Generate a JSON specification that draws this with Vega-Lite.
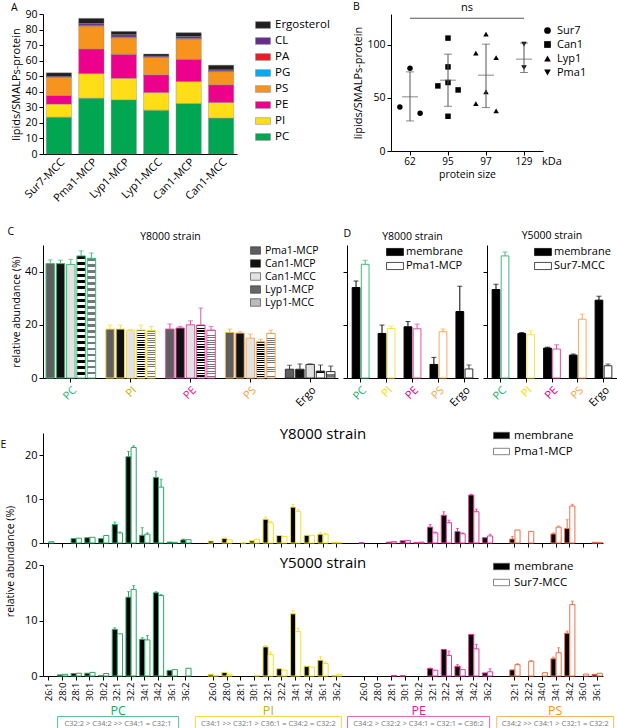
{
"$schema": "https://vega.github.io/schema/vega-lite/v6.json",
"padding": {"left": 0, "top": 1, "right": 0, "bottom": 0},
"background": "white",
"config": {
  "font": "Open Sans",
  "view": {"stroke": null},
  "axis": {"grid": false, "domainColor": "#000", "tickColor": "#000", "labelColor": "#000", "titleColor": "#000", "labelFontSize": 10, "titleFontSize": 10.5, "titleFontWeight": "normal", "tickSize": 4, "labelPadding": 2, "titlePadding": 3},
  "legend": {"labelFontSize": 11, "labelColor": "#000"},
  "title": {"fontWeight": "normal", "fontSize": 10.5, "color": "#000"}
},
"datasets": {
  "A": [
    {"sample":"Sur7-MCC","lipid":"PC","o":1,"v":23.7},{"sample":"Sur7-MCC","lipid":"PI","o":2,"v":8.4},{"sample":"Sur7-MCC","lipid":"PE","o":3,"v":5.5},{"sample":"Sur7-MCC","lipid":"PS","o":4,"v":11.8},{"sample":"Sur7-MCC","lipid":"PG","o":5,"v":0.1},{"sample":"Sur7-MCC","lipid":"PA","o":6,"v":0.1},{"sample":"Sur7-MCC","lipid":"CL","o":7,"v":0.3},{"sample":"Sur7-MCC","lipid":"Ergosterol","o":8,"v":2.3},
    {"sample":"Pma1-MCP","lipid":"PC","o":1,"v":35.9},{"sample":"Pma1-MCP","lipid":"PI","o":2,"v":15.8},{"sample":"Pma1-MCP","lipid":"PE","o":3,"v":15.8},{"sample":"Pma1-MCP","lipid":"PS","o":4,"v":14.8},{"sample":"Pma1-MCP","lipid":"PG","o":5,"v":0.2},{"sample":"Pma1-MCP","lipid":"PA","o":6,"v":0.2},{"sample":"Pma1-MCP","lipid":"CL","o":7,"v":1.2},{"sample":"Pma1-MCP","lipid":"Ergosterol","o":8,"v":3.3},
    {"sample":"Lyp1-MCP","lipid":"PC","o":1,"v":34.8},{"sample":"Lyp1-MCP","lipid":"PI","o":2,"v":13.9},{"sample":"Lyp1-MCP","lipid":"PE","o":3,"v":15.4},{"sample":"Lyp1-MCP","lipid":"PS","o":4,"v":10.7},{"sample":"Lyp1-MCP","lipid":"PG","o":5,"v":0.2},{"sample":"Lyp1-MCP","lipid":"PA","o":6,"v":0.2},{"sample":"Lyp1-MCP","lipid":"CL","o":7,"v":1.5},{"sample":"Lyp1-MCP","lipid":"Ergosterol","o":8,"v":2.1},
    {"sample":"Lyp1-MCC","lipid":"PC","o":1,"v":28.2},{"sample":"Lyp1-MCC","lipid":"PI","o":2,"v":11.3},{"sample":"Lyp1-MCC","lipid":"PE","o":3,"v":11.4},{"sample":"Lyp1-MCC","lipid":"PS","o":4,"v":11.3},{"sample":"Lyp1-MCC","lipid":"PG","o":5,"v":0.1},{"sample":"Lyp1-MCC","lipid":"PA","o":6,"v":0.1},{"sample":"Lyp1-MCC","lipid":"CL","o":7,"v":0.6},{"sample":"Lyp1-MCC","lipid":"Ergosterol","o":8,"v":1.3},
    {"sample":"Can1-MCP","lipid":"PC","o":1,"v":32.5},{"sample":"Can1-MCP","lipid":"PI","o":2,"v":14.1},{"sample":"Can1-MCP","lipid":"PE","o":3,"v":14.3},{"sample":"Can1-MCP","lipid":"PS","o":4,"v":13.1},{"sample":"Can1-MCP","lipid":"PG","o":5,"v":0.2},{"sample":"Can1-MCP","lipid":"PA","o":6,"v":0.2},{"sample":"Can1-MCP","lipid":"CL","o":7,"v":1.1},{"sample":"Can1-MCP","lipid":"Ergosterol","o":8,"v":2.5},
    {"sample":"Can1-MCC","lipid":"PC","o":1,"v":23.1},{"sample":"Can1-MCC","lipid":"PI","o":2,"v":10.0},{"sample":"Can1-MCC","lipid":"PE","o":3,"v":11.4},{"sample":"Can1-MCC","lipid":"PS","o":4,"v":8.5},{"sample":"Can1-MCC","lipid":"PG","o":5,"v":0.2},{"sample":"Can1-MCC","lipid":"PA","o":6,"v":0.2},{"sample":"Can1-MCC","lipid":"CL","o":7,"v":0.7},{"sample":"Can1-MCC","lipid":"Ergosterol","o":8,"v":3.0}
  ],
  "Bpts": [
    {"prot":"Sur7","kda":"62","rep":"L","v":41.5},{"prot":"Sur7","kda":"62","rep":"C","v":78},{"prot":"Sur7","kda":"62","rep":"R","v":35.6},
    {"prot":"Can1","kda":"95","rep":"L","v":61.3},{"prot":"Can1","kda":"95","rep":"C","v":106.3},{"prot":"Can1","kda":"95","rep":"C","v":79.2},{"prot":"Can1","kda":"95","rep":"C","v":64.5},{"prot":"Can1","kda":"95","rep":"C","v":32.7},{"prot":"Can1","kda":"95","rep":"R","v":57.5},
    {"prot":"Lyp1","kda":"97","rep":"L","v":92.1},{"prot":"Lyp1","kda":"97","rep":"C","v":110},{"prot":"Lyp1","kda":"97","rep":"R","v":88},{"prot":"Lyp1","kda":"97","rep":"L","v":44.7},{"prot":"Lyp1","kda":"97","rep":"C","v":55.7},{"prot":"Lyp1","kda":"97","rep":"R","v":37.7},
    {"prot":"Pma1","kda":"129","rep":"C","v":100.6},{"prot":"Pma1","kda":"129","rep":"C","v":78.6}
  ],
  "Bstat": [
    {"kda":"62","mean":51,"lo":28.3,"hi":74.5},{"kda":"95","mean":66.7,"lo":42.1,"hi":91.2},{"kda":"97","mean":71.4,"lo":40.9,"hi":100.6},{"kda":"129","mean":86.5,"lo":73.9,"hi":101.6}
  ],
  "C": [
    {"g":"PC","s":"Pma1-MCP","v":43,"e":44.4},{"g":"PC","s":"Can1-MCP","v":43,"e":44.3},{"g":"PC","s":"Can1-MCC","v":42.7,"e":44.6},{"g":"PC","s":"Lyp1-MCP","v":45.9,"e":47.8},{"g":"PC","s":"Lyp1-MCC","v":45,"e":47},
    {"g":"PI","s":"Pma1-MCP","v":18.4,"e":19.9},{"g":"PI","s":"Can1-MCP","v":18.4,"e":19.9},{"g":"PI","s":"Can1-MCC","v":18,"e":18.3},{"g":"PI","s":"Lyp1-MCP","v":18,"e":19.9},{"g":"PI","s":"Lyp1-MCC","v":17.8,"e":19.4},
    {"g":"PE","s":"Pma1-MCP","v":18.4,"e":20.3},{"g":"PE","s":"Can1-MCP","v":18.8,"e":19.4},{"g":"PE","s":"Can1-MCC","v":20,"e":21.5},{"g":"PE","s":"Lyp1-MCP","v":19.9,"e":26.3},{"g":"PE","s":"Lyp1-MCC","v":18,"e":19.4},
    {"g":"PS","s":"Pma1-MCP","v":17.1,"e":18.4},{"g":"PS","s":"Can1-MCP","v":16.9,"e":17.4},{"g":"PS","s":"Can1-MCC","v":15,"e":16.5},{"g":"PS","s":"Lyp1-MCP","v":13.6,"e":14.6},{"g":"PS","s":"Lyp1-MCC","v":16.8,"e":18},
    {"g":"Ergo","s":"Pma1-MCP","v":3.3,"e":4.8},{"g":"Ergo","s":"Can1-MCP","v":3.3,"e":5.3},{"g":"Ergo","s":"Can1-MCC","v":5.1,"e":5.3},{"g":"Ergo","s":"Lyp1-MCP","v":2.6,"e":4.9},{"g":"Ergo","s":"Lyp1-MCC","v":2.4,"e":4.5}
  ],
  "D": [
    {"strain":"Y8000","g":"PC","s":"membrane","v":34,"e":36.5},{"strain":"Y8000","g":"PI","s":"membrane","v":16.75,"e":19.9},{"strain":"Y8000","g":"PE","s":"membrane","v":19.25,"e":21.25},{"strain":"Y8000","g":"PS","s":"membrane","v":5.1,"e":7.75},{"strain":"Y8000","g":"Ergo","s":"membrane","v":25,"e":34.5},
    {"strain":"Y8000","g":"PC","s":"Pma1-MCP","v":42.75,"e":44.25},{"strain":"Y8000","g":"PI","s":"Pma1-MCP","v":18.6,"e":19.5},{"strain":"Y8000","g":"PE","s":"Pma1-MCP","v":18.5,"e":20.25},{"strain":"Y8000","g":"PS","s":"Pma1-MCP","v":17.4,"e":18.4},{"strain":"Y8000","g":"Ergo","s":"Pma1-MCP","v":3.4,"e":4.9},
    {"strain":"Y5000","g":"PC","s":"membrane","v":33.25,"e":35.25},{"strain":"Y5000","g":"PI","s":"membrane","v":16.75,"e":17.1},{"strain":"Y5000","g":"PE","s":"membrane","v":11.25,"e":11.6},{"strain":"Y5000","g":"PS","s":"membrane","v":8.6,"e":9},{"strain":"Y5000","g":"Ergo","s":"membrane","v":29.25,"e":30.75},
    {"strain":"Y5000","g":"PC","s":"Sur7-MCC","v":45.9,"e":47.4},{"strain":"Y5000","g":"PI","s":"Sur7-MCC","v":16.25,"e":17.75},{"strain":"Y5000","g":"PE","s":"Sur7-MCC","v":10.9,"e":12.5},{"strain":"Y5000","g":"PS","s":"Sur7-MCC","v":22.1,"e":24},{"strain":"Y5000","g":"Ergo","s":"Sur7-MCC","v":4.6,"e":5.25}
  ],
  "E8": [
    {"k":"PC 26:1","g":"PC","s":"Pma1-MCP","v":0.3},
    {"k":"PC 28:1","g":"PC","s":"membrane","v":1.0},{"k":"PC 28:1","g":"PC","s":"Pma1-MCP","v":1.1},
    {"k":"PC 30:1","g":"PC","s":"membrane","v":1.2},{"k":"PC 30:1","g":"PC","s":"Pma1-MCP","v":1.3},
    {"k":"PC 30:2","g":"PC","s":"membrane","v":1.0},{"k":"PC 30:2","g":"PC","s":"Pma1-MCP","v":1.7},
    {"k":"PC 32:1","g":"PC","s":"membrane","v":4.2,"e":4.75},{"k":"PC 32:1","g":"PC","s":"Pma1-MCP","v":2.3,"e":2.5},
    {"k":"PC 32:2","g":"PC","s":"membrane","v":19.6,"e":20.8},{"k":"PC 32:2","g":"PC","s":"Pma1-MCP","v":21.7,"e":22.1},
    {"k":"PC 34:1","g":"PC","s":"membrane","v":1.75,"e":3.5},{"k":"PC 34:1","g":"PC","s":"Pma1-MCP","v":2.0,"e":2.3},
    {"k":"PC 34:2","g":"PC","s":"membrane","v":14.9,"e":16.3},{"k":"PC 34:2","g":"PC","s":"Pma1-MCP","v":12.7,"e":14.5},
    {"k":"PC 36:1","g":"PC","s":"membrane","v":0.2},{"k":"PC 36:1","g":"PC","s":"Pma1-MCP","v":0.15},
    {"k":"PC 36:2","g":"PC","s":"membrane","v":0.7,"e":0.9},{"k":"PC 36:2","g":"PC","s":"Pma1-MCP","v":0.75},
    {"k":"PI 26:0","g":"PI","s":"membrane","v":0.45},
    {"k":"PI 28:0","g":"PI","s":"membrane","v":1.05,"e":1.2},{"k":"PI 28:0","g":"PI","s":"Pma1-MCP","v":0.7},
    {"k":"PI 28:1","g":"PI","s":"Pma1-MCP","v":0.05},
    {"k":"PI 30:1","g":"PI","s":"membrane","v":0.5},{"k":"PI 30:1","g":"PI","s":"Pma1-MCP","v":0.9},
    {"k":"PI 32:1","g":"PI","s":"membrane","v":5.4,"e":5.9},{"k":"PI 32:1","g":"PI","s":"Pma1-MCP","v":4.6,"e":4.9},
    {"k":"PI 32:2","g":"PI","s":"membrane","v":1.7},{"k":"PI 32:2","g":"PI","s":"Pma1-MCP","v":1.5},
    {"k":"PI 34:1","g":"PI","s":"membrane","v":8.15,"e":8.75},{"k":"PI 34:1","g":"PI","s":"Pma1-MCP","v":7.2,"e":7.6},
    {"k":"PI 34:2","g":"PI","s":"membrane","v":1.75},{"k":"PI 34:2","g":"PI","s":"Pma1-MCP","v":1.75},
    {"k":"PI 36:1","g":"PI","s":"membrane","v":2.0,"e":2.4},{"k":"PI 36:1","g":"PI","s":"Pma1-MCP","v":2.0,"e":2.2},
    {"k":"PI 36:2","g":"PI","s":"membrane","v":0.1},{"k":"PI 36:2","g":"PI","s":"Pma1-MCP","v":0.15},
    {"k":"PE 26:0","g":"PE","s":"membrane","v":0.05},
    {"k":"PE 28:1","g":"PE","s":"membrane","v":0.2},{"k":"PE 28:1","g":"PE","s":"Pma1-MCP","v":0.3},
    {"k":"PE 30:1","g":"PE","s":"membrane","v":0.5},{"k":"PE 30:1","g":"PE","s":"Pma1-MCP","v":0.6},
    {"k":"PE 30:2","g":"PE","s":"membrane","v":0.1},{"k":"PE 30:2","g":"PE","s":"Pma1-MCP","v":0.2},
    {"k":"PE 32:1","g":"PE","s":"membrane","v":3.6,"e":4.2},{"k":"PE 32:1","g":"PE","s":"Pma1-MCP","v":2.3,"e":2.5},
    {"k":"PE 32:2","g":"PE","s":"membrane","v":6.3,"e":7.1},{"k":"PE 32:2","g":"PE","s":"Pma1-MCP","v":4.6,"e":5.2},
    {"k":"PE 34:1","g":"PE","s":"membrane","v":2.6,"e":3.3},{"k":"PE 34:1","g":"PE","s":"Pma1-MCP","v":2.1,"e":2.3},
    {"k":"PE 34:2","g":"PE","s":"membrane","v":10.9,"e":11.1},{"k":"PE 34:2","g":"PE","s":"Pma1-MCP","v":7.1,"e":7.7},
    {"k":"PE 36:2","g":"PE","s":"membrane","v":1.2},{"k":"PE 36:2","g":"PE","s":"Pma1-MCP","v":1.6,"e":2.0},
    {"k":"PS 32:1","g":"PS","s":"membrane","v":0.9,"e":1.5},{"k":"PS 32:1","g":"PS","s":"Pma1-MCP","v":2.95},
    {"k":"PS 32:2","g":"PS","s":"Pma1-MCP","v":2.65},
    {"k":"PS 34:1","g":"PS","s":"membrane","v":2.05,"e":2.3},{"k":"PS 34:1","g":"PS","s":"Pma1-MCP","v":3.6,"e":3.85},
    {"k":"PS 34:2","g":"PS","s":"membrane","v":3.3,"e":5.3},{"k":"PS 34:2","g":"PS","s":"Pma1-MCP","v":8.4,"e":8.8},
    {"k":"PS 36:1","g":"PS","s":"membrane","v":0.15},{"k":"PS 36:1","g":"PS","s":"Pma1-MCP","v":0.15}
  ],
  "E5": [
    {"k":"PC 28:0","g":"PC","s":"membrane","v":0.2},{"k":"PC 28:0","g":"PC","s":"Sur7-MCC","v":0.3},
    {"k":"PC 28:1","g":"PC","s":"membrane","v":0.45},{"k":"PC 28:1","g":"PC","s":"Sur7-MCC","v":0.5},
    {"k":"PC 30:1","g":"PC","s":"membrane","v":0.5},{"k":"PC 30:1","g":"PC","s":"Sur7-MCC","v":0.65},
    {"k":"PC 30:2","g":"PC","s":"membrane","v":0.1},{"k":"PC 30:2","g":"PC","s":"Sur7-MCC","v":0.45},
    {"k":"PC 32:1","g":"PC","s":"membrane","v":8.4,"e":8.7},{"k":"PC 32:1","g":"PC","s":"Sur7-MCC","v":7.6},
    {"k":"PC 32:2","g":"PC","s":"membrane","v":14.2,"e":15.2},{"k":"PC 32:2","g":"PC","s":"Sur7-MCC","v":15.6,"e":16.3},
    {"k":"PC 34:1","g":"PC","s":"membrane","v":6.6,"e":6.9},{"k":"PC 34:1","g":"PC","s":"Sur7-MCC","v":6.5,"e":7.3},
    {"k":"PC 34:2","g":"PC","s":"membrane","v":15,"e":15.2},{"k":"PC 34:2","g":"PC","s":"Sur7-MCC","v":14.5,"e":14.7},
    {"k":"PC 36:1","g":"PC","s":"membrane","v":1.0},{"k":"PC 36:1","g":"PC","s":"Sur7-MCC","v":1.15},
    {"k":"PC 36:2","g":"PC","s":"Sur7-MCC","v":1.4},
    {"k":"PI 26:0","g":"PI","s":"membrane","v":0.3},{"k":"PI 26:0","g":"PI","s":"Sur7-MCC","v":0.1},
    {"k":"PI 28:0","g":"PI","s":"membrane","v":0.65},{"k":"PI 28:0","g":"PI","s":"Sur7-MCC","v":0.25},
    {"k":"PI 30:1","g":"PI","s":"Sur7-MCC","v":0.1},
    {"k":"PI 32:1","g":"PI","s":"membrane","v":5.25,"e":5.5},{"k":"PI 32:1","g":"PI","s":"Sur7-MCC","v":3.85,"e":4.3},
    {"k":"PI 32:2","g":"PI","s":"membrane","v":1.3},{"k":"PI 32:2","g":"PI","s":"Sur7-MCC","v":1.05},
    {"k":"PI 34:1","g":"PI","s":"membrane","v":11.2,"e":11.8},{"k":"PI 34:1","g":"PI","s":"Sur7-MCC","v":8.0,"e":8.6},
    {"k":"PI 34:2","g":"PI","s":"membrane","v":1.75},{"k":"PI 34:2","g":"PI","s":"Sur7-MCC","v":1.6},
    {"k":"PI 36:1","g":"PI","s":"membrane","v":2.85,"e":3.55},{"k":"PI 36:1","g":"PI","s":"Sur7-MCC","v":2.25,"e":2.5},
    {"k":"PI 36:2","g":"PI","s":"membrane","v":0.1},{"k":"PI 36:2","g":"PI","s":"Sur7-MCC","v":0.25},
    {"k":"PE 28:1","g":"PE","s":"Sur7-MCC","v":0.1},
    {"k":"PE 30:1","g":"PE","s":"membrane","v":0.05},
    {"k":"PE 32:1","g":"PE","s":"membrane","v":1.35,"e":1.45},{"k":"PE 32:1","g":"PE","s":"Sur7-MCC","v":1.05},
    {"k":"PE 32:2","g":"PE","s":"membrane","v":4.8},{"k":"PE 32:2","g":"PE","s":"Sur7-MCC","v":3.7,"e":4.5},
    {"k":"PE 34:1","g":"PE","s":"membrane","v":1.75,"e":2.05},{"k":"PE 34:1","g":"PE","s":"Sur7-MCC","v":1.15},
    {"k":"PE 34:2","g":"PE","s":"membrane","v":7.5},{"k":"PE 34:2","g":"PE","s":"Sur7-MCC","v":4.9,"e":5.7},
    {"k":"PE 36:2","g":"PE","s":"membrane","v":0.55},{"k":"PE 36:2","g":"PE","s":"Sur7-MCC","v":0.75,"e":1.3},
    {"k":"PS 32:1","g":"PS","s":"membrane","v":1.1},{"k":"PS 32:1","g":"PS","s":"Sur7-MCC","v":2.05,"e":2.2},
    {"k":"PS 32:2","g":"PS","s":"Sur7-MCC","v":2.65,"e":2.8},
    {"k":"PS 34:0","g":"PS","s":"Sur7-MCC","v":0.6},
    {"k":"PS 34:1","g":"PS","s":"membrane","v":3.1,"e":3.4},{"k":"PS 34:1","g":"PS","s":"Sur7-MCC","v":4.2,"e":5.1},
    {"k":"PS 34:2","g":"PS","s":"membrane","v":7.7,"e":8.1},{"k":"PS 34:2","g":"PS","s":"Sur7-MCC","v":12.9,"e":13.5},
    {"k":"PS 36:0","g":"PS","s":"Sur7-MCC","v":0.35},
    {"k":"PS 36:1","g":"PS","s":"membrane","v":0.3},{"k":"PS 36:1","g":"PS","s":"Sur7-MCC","v":0.5}
  ],
  "strip": [
    {"k":"PC 32:1","g":"PC","row":"label","t":"PC"},{"k":"PI 32:1","g":"PI","row":"label","t":"PI"},{"k":"PE 30:2","g":"PE","row":"label","t":"PE"},{"k":"PS 34:1","g":"PS","row":"label","t":"PS"},
    {"k":"PC 32:1","g":"PC","row":"box","t":"C32:2 > C34:2 >> C34:1 = C32:1"},{"k":"PI 32:1","g":"PI","row":"box","t":"C34:1 >> C32:1 > C36:1 = C34:2 = C32:2"},{"k":"PE 30:2","g":"PE","row":"box","t":"C34:2 > C32:2 > C34:1 = C32:1 = C36:2"},{"k":"PS 34:1","g":"PS","row":"box","t":"C34:2 >> C34:1 > C32:1 = C32:2"}
  ]
},
"spacing": 22,
"resolve": {"scale": {"x":"independent","y":"independent","xOffset":"independent","fill":"independent","stroke":"independent","shape":"independent","color":"independent"}, "legend": {"fill":"independent","stroke":"independent","shape":"independent","color":"independent"}, "axis": {"x":"independent","y":"independent"}},
"vconcat": [
 {
  "bounds": "flush",
  "spacing": 154,
  "resolve": {"scale": {"x":"independent","y":"independent","xOffset":"independent","fill":"independent","stroke":"independent","shape":"independent","color":"independent"}, "legend": {"fill":"independent","stroke":"independent","shape":"independent","color":"independent"}},
  "hconcat": [
   {
    "width": 194, "height": 140,
    "data": {"name": "A"},
    "title": {"text": "A", "anchor": "start", "frame": "bounds", "offset": -4},
    "mark": {"type": "bar", "stroke": "#888", "strokeWidth": 0.4},
    "encoding": {
      "x": {"field": "sample", "type": "nominal", "sort": ["Sur7-MCC","Pma1-MCP","Lyp1-MCP","Lyp1-MCC","Can1-MCP","Can1-MCC"], "scale": {"paddingInner": 0.22, "paddingOuter": 0.1}, "axis": {"title": null, "labelAngle": -45, "labelFontSize": 11, "ticks": false}},
      "y": {"field": "v", "type": "quantitative", "stack": "zero", "scale": {"domain": [0, 90], "nice": false}, "axis": {"values": [0,10,20,30,40,50,60,70,80,90], "title": "lipids/SMALPs-protein", "labelFontSize": 10.5, "titleFontSize": 11}},
      "fill": {"field": "lipid", "type": "nominal", "scale": {"domain": ["Ergosterol","CL","PA","PG","PS","PE","PI","PC"], "range": ["#231f20","#662d91","#ed1c24","#00aeef","#f7941d","#ec008c","#ffde17","#00a651"]}, "legend": {"title": null, "orient": "none", "legendX": 212, "legendY": 3, "symbolType": "M-1,-0.45H1V0.45H-1Z", "symbolSize": 225, "symbolStrokeColor": "#888", "symbolStrokeWidth": 0.5, "rowPadding": 2, "labelFontSize": 11.5}},
      "order": {"field": "o", "type": "quantitative"}
    }
   },
   {
    "width": 152, "height": 137,
    "title": {"text": "B", "anchor": "start", "frame": "bounds", "offset": -10},
    "layer": [
     {
      "data": {"name": "Bpts"},
      "mark": {"type": "point", "filled": true, "color": "#000", "size": 30, "opacity": 1},
      "encoding": {
        "x": {"field": "kda", "type": "ordinal", "scale": {"domain": ["62","95","97","129"], "paddingInner": 0.2, "paddingOuter": 0.1}, "axis": {"title": "protein size", "labelAngle": 0, "labelFontSize": 10, "labelPadding": 1, "titleFontSize": 10.5, "titlePadding": 3}},
        "xOffset": {"field": "rep", "type": "nominal", "scale": {"domain": ["L","C","R"]}},
        "y": {"field": "v", "type": "quantitative", "scale": {"domain": [0, 129], "nice": false}, "axis": {"values": [0,25,50,75,100,125], "title": "lipids/SMALPs-protein", "labelFontSize": 10.5, "titleFontSize": 11}},
        "shape": {"field": "prot", "type": "nominal", "scale": {"domain": ["Sur7","Can1","Lyp1","Pma1"], "range": ["circle","square","triangle-up","triangle-down"]}, "legend": {"title": null, "orient": "none", "legendX": 151, "legendY": 11, "symbolFillColor": "#000", "symbolStrokeColor": "#000", "symbolSize": 45, "rowPadding": 1, "labelFontSize": 11}}
      }
     },
     {
      "data": {"name": "Bstat"},
      "mark": {"type": "rule", "color": "#555", "strokeWidth": 1},
      "encoding": {"x": {"field": "kda", "type": "ordinal"}, "y": {"field": "lo", "type": "quantitative"}, "y2": {"field": "hi"}}
     },
     {
      "data": {"name": "Bstat"},
      "mark": {"type": "tick", "color": "#555", "size": 8, "thickness": 1},
      "encoding": {"x": {"field": "kda", "type": "ordinal"}, "y": {"field": "lo", "type": "quantitative"}}
     },
     {
      "data": {"name": "Bstat"},
      "mark": {"type": "tick", "color": "#555", "size": 8, "thickness": 1},
      "encoding": {"x": {"field": "kda", "type": "ordinal"}, "y": {"field": "hi", "type": "quantitative"}}
     },
     {
      "data": {"name": "Bstat"},
      "mark": {"type": "tick", "color": "#555", "size": 16, "thickness": 1},
      "encoding": {"x": {"field": "kda", "type": "ordinal"}, "y": {"field": "mean", "type": "quantitative"}}
     },
     {
      "data": {"values": [{"a": "62", "b": "129", "y": 125}]},
      "mark": {"type": "rule", "color": "#555", "strokeWidth": 1},
      "encoding": {"x": {"field": "a", "type": "ordinal"}, "x2": {"field": "b"}, "y": {"field": "y", "type": "quantitative"}}
     },
     {
      "data": {"values": [{"a": "95", "y": 125, "t": "ns"}]},
      "mark": {"type": "text", "fontSize": 11, "dx": 19, "dy": -10, "color": "#000"},
      "encoding": {"x": {"field": "a", "type": "ordinal"}, "y": {"field": "y", "type": "quantitative"}, "text": {"field": "t"}}
     },
     {
      "data": {"values": [{"a": "129", "y": 0, "t": "kDa"}]},
      "mark": {"type": "text", "fontSize": 11, "dx": 18, "dy": 11, "align": "left", "color": "#000"},
      "encoding": {"x": {"field": "a", "type": "ordinal"}, "y": {"field": "y", "type": "quantitative"}, "text": {"field": "t"}}
     }
    ]
   }
  ]
 },
 {
  "spacing": 18,
  "resolve": {"scale": {"x":"independent","y":"independent","xOffset":"independent","fill":"independent","stroke":"independent","shape":"independent","color":"independent"}, "legend": {"fill":"independent","stroke":"independent","shape":"independent","color":"independent"}},
  "vconcat": [
   {
    "bounds": "flush",
    "spacing": 9,
    "resolve": {"scale": {"x":"independent","y":"independent","xOffset":"independent","fill":"independent","stroke":"independent","shape":"independent","color":"independent"}, "legend": {"fill":"independent","stroke":"independent","shape":"independent","color":"independent"}},
    "hconcat": [
     {
      "width": 295, "height": 133,
      "data": {"name": "C"},
      "title": {"text": "Y8000 strain", "dx": -20, "offset": -16},
      "encoding": {
        "x": {"field": "g", "type": "nominal", "scale": {"domain": ["PC","PI","PE","PS","Ergo"], "paddingInner": 0.17, "paddingOuter": 0.05}, "axis": {"labelAngle": -45, "labelFontSize": 11, "labelColor": {"condition": [{"test": "datum.value === 'PC'", "value": "#2bb673"}, {"test": "datum.value === 'PI'", "value": "#c9b400"}, {"test": "datum.value === 'PE'", "value": "#e6178c"}, {"test": "datum.value === 'PS'", "value": "#f7a040"}], "value": "#000"}, "title": "C", "titleAngle": 0, "titleX": -36, "titleY": -147, "titleAlign": "left", "titleBaseline": "middle"}},
        "xOffset": {"field": "s", "type": "nominal", "scale": {"domain": ["Pma1-MCP","Can1-MCP","Can1-MCC","Lyp1-MCP","Lyp1-MCC"], "paddingInner": 0.18}}
      },
      "layer": [
       {
        "mark": {"type": "bar", "strokeWidth": 1},
        "encoding": {
          "y": {"field": "v", "type": "quantitative", "scale": {"domain": [0, 50], "nice": false}, "axis": {"values": [0,10,20,30,40,50], "title": "relative abundance (%)", "labelFontSize": 11}},
          "fill": {
            "condition": [
              {"test": "datum.s === 'Lyp1-MCP'", "value": {"gradient": "linear", "x1": 0, "y1": 0, "x2": 0, "y2": 1, "stops": [
                {"offset":0,"color":"#000"},{"offset":0.025,"color":"#000"},{"offset":0.025,"color":"#fff"},{"offset":0.05,"color":"#fff"},
                {"offset":0.05,"color":"#000"},{"offset":0.075,"color":"#000"},{"offset":0.075,"color":"#fff"},{"offset":0.1,"color":"#fff"},
                {"offset":0.1,"color":"#000"},{"offset":0.125,"color":"#000"},{"offset":0.125,"color":"#fff"},{"offset":0.15,"color":"#fff"},
                {"offset":0.15,"color":"#000"},{"offset":0.175,"color":"#000"},{"offset":0.175,"color":"#fff"},{"offset":0.2,"color":"#fff"},
                {"offset":0.2,"color":"#000"},{"offset":0.225,"color":"#000"},{"offset":0.225,"color":"#fff"},{"offset":0.25,"color":"#fff"},
                {"offset":0.25,"color":"#000"},{"offset":0.275,"color":"#000"},{"offset":0.275,"color":"#fff"},{"offset":0.3,"color":"#fff"},
                {"offset":0.3,"color":"#000"},{"offset":0.325,"color":"#000"},{"offset":0.325,"color":"#fff"},{"offset":0.35,"color":"#fff"},
                {"offset":0.35,"color":"#000"},{"offset":0.375,"color":"#000"},{"offset":0.375,"color":"#fff"},{"offset":0.4,"color":"#fff"},
                {"offset":0.4,"color":"#000"},{"offset":0.425,"color":"#000"},{"offset":0.425,"color":"#fff"},{"offset":0.45,"color":"#fff"},
                {"offset":0.45,"color":"#000"},{"offset":0.475,"color":"#000"},{"offset":0.475,"color":"#fff"},{"offset":0.5,"color":"#fff"},
                {"offset":0.5,"color":"#000"},{"offset":0.525,"color":"#000"},{"offset":0.525,"color":"#fff"},{"offset":0.55,"color":"#fff"},
                {"offset":0.55,"color":"#000"},{"offset":0.575,"color":"#000"},{"offset":0.575,"color":"#fff"},{"offset":0.6,"color":"#fff"},
                {"offset":0.6,"color":"#000"},{"offset":0.625,"color":"#000"},{"offset":0.625,"color":"#fff"},{"offset":0.65,"color":"#fff"},
                {"offset":0.65,"color":"#000"},{"offset":0.675,"color":"#000"},{"offset":0.675,"color":"#fff"},{"offset":0.7,"color":"#fff"},
                {"offset":0.7,"color":"#000"},{"offset":0.725,"color":"#000"},{"offset":0.725,"color":"#fff"},{"offset":0.75,"color":"#fff"},
                {"offset":0.75,"color":"#000"},{"offset":0.775,"color":"#000"},{"offset":0.775,"color":"#fff"},{"offset":0.8,"color":"#fff"},
                {"offset":0.8,"color":"#000"},{"offset":0.825,"color":"#000"},{"offset":0.825,"color":"#fff"},{"offset":0.85,"color":"#fff"},
                {"offset":0.85,"color":"#000"},{"offset":0.875,"color":"#000"},{"offset":0.875,"color":"#fff"},{"offset":0.9,"color":"#fff"},
                {"offset":0.9,"color":"#000"},{"offset":0.925,"color":"#000"},{"offset":0.925,"color":"#fff"},{"offset":0.95,"color":"#fff"},
                {"offset":0.95,"color":"#000"},{"offset":0.975,"color":"#000"},{"offset":0.975,"color":"#fff"},{"offset":1,"color":"#fff"}
              ]}},
              {"test": "datum.s === 'Lyp1-MCC'", "value": {"gradient": "linear", "x1": 0, "y1": 0, "x2": 0, "y2": 1, "stops": [
                {"offset":0,"color":"#777"},{"offset":0.02,"color":"#777"},{"offset":0.02,"color":"#fff"},{"offset":0.05,"color":"#fff"},
                {"offset":0.05,"color":"#777"},{"offset":0.07,"color":"#777"},{"offset":0.07,"color":"#fff"},{"offset":0.1,"color":"#fff"},
                {"offset":0.1,"color":"#777"},{"offset":0.12,"color":"#777"},{"offset":0.12,"color":"#fff"},{"offset":0.15,"color":"#fff"},
                {"offset":0.15,"color":"#777"},{"offset":0.17,"color":"#777"},{"offset":0.17,"color":"#fff"},{"offset":0.2,"color":"#fff"},
                {"offset":0.2,"color":"#777"},{"offset":0.22,"color":"#777"},{"offset":0.22,"color":"#fff"},{"offset":0.25,"color":"#fff"},
                {"offset":0.25,"color":"#777"},{"offset":0.27,"color":"#777"},{"offset":0.27,"color":"#fff"},{"offset":0.3,"color":"#fff"},
                {"offset":0.3,"color":"#777"},{"offset":0.32,"color":"#777"},{"offset":0.32,"color":"#fff"},{"offset":0.35,"color":"#fff"},
                {"offset":0.35,"color":"#777"},{"offset":0.37,"color":"#777"},{"offset":0.37,"color":"#fff"},{"offset":0.4,"color":"#fff"},
                {"offset":0.4,"color":"#777"},{"offset":0.42,"color":"#777"},{"offset":0.42,"color":"#fff"},{"offset":0.45,"color":"#fff"},
                {"offset":0.45,"color":"#777"},{"offset":0.47,"color":"#777"},{"offset":0.47,"color":"#fff"},{"offset":0.5,"color":"#fff"},
                {"offset":0.5,"color":"#777"},{"offset":0.52,"color":"#777"},{"offset":0.52,"color":"#fff"},{"offset":0.55,"color":"#fff"},
                {"offset":0.55,"color":"#777"},{"offset":0.57,"color":"#777"},{"offset":0.57,"color":"#fff"},{"offset":0.6,"color":"#fff"},
                {"offset":0.6,"color":"#777"},{"offset":0.62,"color":"#777"},{"offset":0.62,"color":"#fff"},{"offset":0.65,"color":"#fff"},
                {"offset":0.65,"color":"#777"},{"offset":0.67,"color":"#777"},{"offset":0.67,"color":"#fff"},{"offset":0.7,"color":"#fff"},
                {"offset":0.7,"color":"#777"},{"offset":0.72,"color":"#777"},{"offset":0.72,"color":"#fff"},{"offset":0.75,"color":"#fff"},
                {"offset":0.75,"color":"#777"},{"offset":0.77,"color":"#777"},{"offset":0.77,"color":"#fff"},{"offset":0.8,"color":"#fff"},
                {"offset":0.8,"color":"#777"},{"offset":0.82,"color":"#777"},{"offset":0.82,"color":"#fff"},{"offset":0.85,"color":"#fff"},
                {"offset":0.85,"color":"#777"},{"offset":0.87,"color":"#777"},{"offset":0.87,"color":"#fff"},{"offset":0.9,"color":"#fff"},
                {"offset":0.9,"color":"#777"},{"offset":0.92,"color":"#777"},{"offset":0.92,"color":"#fff"},{"offset":0.95,"color":"#fff"},
                {"offset":0.95,"color":"#777"},{"offset":0.97,"color":"#777"},{"offset":0.97,"color":"#fff"},{"offset":1,"color":"#fff"}
              ]}}
            ],
            "field": "s", "type": "nominal", "scale": {"domain": ["Pma1-MCP","Can1-MCP","Can1-MCC","Lyp1-MCP","Lyp1-MCC"], "range": ["#5e5e5e","#111111","#e2e2e2","#666666","#bbbbbb"]}, "legend": {"title": null, "orient": "none", "legendX": 207, "legendY": 0, "symbolType": "M-1,-0.75H1V0.75H-1Z", "symbolSize": 100, "symbolStrokeColor": "#333", "symbolStrokeWidth": 0.6, "labelFontSize": 10.5, "rowPadding": 2, "padding": 0}},
          "stroke": {"field": "g", "type": "nominal", "scale": {"domain": ["PC","PI","PE","PS","Ergo"], "range": ["#3dba7e","#f5dc4a","#e44ea8","#f8a95a","#333333"]}, "legend": null}
        }
       },
       {
        "transform": [{"filter": "isValid(datum.e)"}],
        "mark": {"type": "rule", "strokeWidth": 1},
        "encoding": {"y": {"field": "v", "type": "quantitative"}, "y2": {"field": "e"}, "stroke": {"field": "g", "type": "nominal", "legend": null}}
       },
       {
        "transform": [{"filter": "isValid(datum.e)"}],
        "mark": {"type": "tick", "size": 5, "thickness": 1},
        "encoding": {"y": {"field": "e", "type": "quantitative"}, "color": {"field": "g", "type": "nominal", "scale": {"domain": ["PC","PI","PE","PS","Ergo"], "range": ["#3dba7e","#f5dc4a","#e44ea8","#f8a95a","#333333"]}, "legend": null}}
       }
      ]
     },
     {
      "width": 131, "height": 133,
      "data": {"name": "D"},
      "transform": [{"filter": "datum.strain === 'Y8000'"}],
      "title": {"text": "Y8000 strain", "offset": -14},
      "encoding": {
        "x": {"field": "g", "type": "nominal", "scale": {"domain": ["PC","PI","PE","PS","Ergo"], "paddingInner": 0.35, "paddingOuter": 0.2}, "axis": {"labelAngle": -45, "labelFontSize": 11, "labelColor": {"condition": [{"test": "datum.value === 'PC'", "value": "#1fb06a"}, {"test": "datum.value === 'PI'", "value": "#f5dc00"}, {"test": "datum.value === 'PE'", "value": "#e6007e"}, {"test": "datum.value === 'PS'", "value": "#f8a54b"}], "value": "#000"}, "title": "D", "titleAngle": 0, "titleX": -4, "titleY": -145, "titleAlign": "left", "titleBaseline": "middle"}},
        "xOffset": {"field": "s", "type": "nominal", "scale": {"domain": ["membrane","Pma1-MCP"], "paddingInner": 0.15}}
      },
      "layer": [
       {
        "mark": {"type": "bar", "strokeWidth": 1},
        "encoding": {
          "y": {"field": "v", "type": "quantitative", "scale": {"domain": [0, 50], "nice": false}, "axis": {"values": [0,10,20,30,40,50], "title": null, "labels": false}},
          "fill": {"field": "s", "type": "nominal", "scale": {"domain": ["membrane","Pma1-MCP"], "range": ["#000000","#ffffff"]}, "legend": {"title": null, "orient": "none", "legendX": 41, "legendY": 0, "symbolType": "M-1.3,-0.55H1.3V0.55H-1.3Z", "symbolSize": 169, "symbolStrokeColor": "#000", "symbolStrokeWidth": 0.7, "labelFontSize": 11, "rowPadding": 2, "padding": 0}},
          "stroke": {"condition": {"test": "datum.s === 'membrane'", "value": "#000"}, "field": "g", "type": "nominal", "scale": {"domain": ["PC","PI","PE","PS","Ergo"], "range": ["#3dba7e","#f8e04a","#e44ea8","#f8a95a","#333333"]}, "legend": null}
        }
       },
       {
        "mark": {"type": "rule", "strokeWidth": 1},
        "encoding": {"y": {"field": "v", "type": "quantitative"}, "y2": {"field": "e"}, "stroke": {"condition": {"test": "datum.s === 'membrane'", "value": "#000"}, "field": "g", "type": "nominal", "legend": null}}
       },
       {
        "mark": {"type": "tick", "size": 5, "thickness": 1},
        "encoding": {"y": {"field": "e", "type": "quantitative"}, "color": {"condition": {"test": "datum.s === 'membrane'", "value": "#000"}, "field": "g", "type": "nominal", "scale": {"domain": ["PC","PI","PE","PS","Ergo"], "range": ["#3dba7e","#f8e04a","#e44ea8","#f8a95a","#333333"]}, "legend": null}}
       }
      ]
     },
     {
      "width": 130, "height": 133,
      "data": {"name": "D"},
      "transform": [{"filter": "datum.strain === 'Y5000'"}],
      "title": {"text": "Y5000 strain", "offset": 4},
      "encoding": {
        "x": {"field": "g", "type": "nominal", "scale": {"domain": ["PC","PI","PE","PS","Ergo"], "paddingInner": 0.35, "paddingOuter": 0.2}, "axis": {"labelAngle": -45, "labelFontSize": 11, "labelColor": {"condition": [{"test": "datum.value === 'PC'", "value": "#1fb06a"}, {"test": "datum.value === 'PI'", "value": "#f5dc00"}, {"test": "datum.value === 'PE'", "value": "#e6007e"}, {"test": "datum.value === 'PS'", "value": "#f8a54b"}], "value": "#000"}, "title": null}},
        "xOffset": {"field": "s", "type": "nominal", "scale": {"domain": ["membrane","Sur7-MCC"], "paddingInner": 0.15}}
      },
      "layer": [
       {
        "mark": {"type": "bar", "strokeWidth": 1},
        "encoding": {
          "y": {"field": "v", "type": "quantitative", "scale": {"domain": [0, 50], "nice": false}, "axis": {"values": [0,10,20,30,40,50], "title": null, "labels": false}},
          "fill": {"field": "s", "type": "nominal", "scale": {"domain": ["membrane","Sur7-MCC"], "range": ["#000000","#ffffff"]}, "legend": {"title": null, "orient": "none", "legendX": 49, "legendY": 0, "symbolType": "M-1.3,-0.55H1.3V0.55H-1.3Z", "symbolSize": 169, "symbolStrokeColor": "#000", "symbolStrokeWidth": 0.7, "labelFontSize": 11, "rowPadding": 2, "padding": 0}},
          "stroke": {"condition": {"test": "datum.s === 'membrane'", "value": "#000"}, "field": "g", "type": "nominal", "scale": {"domain": ["PC","PI","PE","PS","Ergo"], "range": ["#3dba7e","#f8e04a","#e44ea8","#f8a95a","#333333"]}, "legend": null}
        }
       },
       {
        "mark": {"type": "rule", "strokeWidth": 1},
        "encoding": {"y": {"field": "v", "type": "quantitative"}, "y2": {"field": "e"}, "stroke": {"condition": {"test": "datum.s === 'membrane'", "value": "#000"}, "field": "g", "type": "nominal", "legend": null}}
       },
       {
        "mark": {"type": "tick", "size": 5, "thickness": 1},
        "encoding": {"y": {"field": "e", "type": "quantitative"}, "color": {"condition": {"test": "datum.s === 'membrane'", "value": "#000"}, "field": "g", "type": "nominal", "scale": {"domain": ["PC","PI","PE","PS","Ergo"], "range": ["#3dba7e","#f8e04a","#e44ea8","#f8a95a","#333333"]}, "legend": null}}
       }
      ]
     }
    ]
   },
   {
    "bounds": "flush",
    "spacing": 22,
    "resolve": {"scale": {"x":"independent","y":"independent","xOffset":"independent","fill":"independent","stroke":"independent","shape":"independent","color":"independent"}, "legend": {"fill":"independent","stroke":"independent","shape":"independent","color":"independent"}},
    "vconcat": [
     {
      "width": 560, "height": 110,
      "data": {"name": "E8"},
      "title": {"text": "Y8000 strain", "fontSize": 15, "offset": -15},
      "encoding": {
        "x": {"field": "k", "type": "nominal", "scale": {"domain": ["PC 26:1","PC 28:0","PC 28:1","PC 30:1","PC 30:2","PC 32:1","PC 32:2","PC 34:1","PC 34:2","PC 36:1","PC 36:2","g1","PI 26:0","PI 28:0","PI 28:1","PI 30:1","PI 32:1","PI 32:2","PI 34:1","PI 34:2","PI 36:1","PI 36:2","g2","PE 26:0","PE 28:0","PE 28:1","PE 30:1","PE 30:2","PE 32:1","PE 32:2","PE 34:1","PE 34:2","PE 36:2","g3","PS 32:1","PS 32:2","PS 34:0","PS 34:1","PS 34:2","PS 36:0","PS 36:1"], "paddingInner": 0.25, "paddingOuter": 0.05}, "axis": {"values": ["PC 26:1","PC 28:0","PC 28:1","PC 30:1","PC 30:2","PC 32:1","PC 32:2","PC 34:1","PC 34:2","PC 36:1","PC 36:2","PI 26:0","PI 28:0","PI 28:1","PI 30:1","PI 32:1","PI 32:2","PI 34:1","PI 34:2","PI 36:1","PI 36:2","PE 26:0","PE 28:0","PE 28:1","PE 30:1","PE 30:2","PE 32:1","PE 32:2","PE 34:1","PE 34:2","PE 36:2","PS 32:1","PS 32:2","PS 34:0","PS 34:1","PS 34:2","PS 36:0","PS 36:1"], "labels": false, "title": "E", "titleAngle": 0, "titleX": -43, "titleY": -99, "titleAlign": "left", "titleBaseline": "middle"}},
        "xOffset": {"field": "s", "type": "nominal", "scale": {"domain": ["membrane","Pma1-MCP"], "paddingInner": 0}}
      },
      "layer": [
       {
        "mark": {"type": "bar", "strokeWidth": 1},
        "encoding": {
          "y": {"field": "v", "type": "quantitative", "scale": {"domain": [0, 25], "nice": false}, "axis": {"values": [0,5,10,15,20,25], "title": "relative abundance (%)", "labelFontSize": 11, "titleX": -28, "titleY": 128}},
          "fill": {"field": "s", "type": "nominal", "scale": {"domain": ["membrane","Pma1-MCP"], "range": ["#000000","#ffffff"]}, "legend": {"title": null, "orient": "none", "legendX": 450, "legendY": -6, "symbolType": "M-1,-0.4H1V0.4H-1Z", "symbolSize": 256, "symbolStrokeColor": "#555", "symbolStrokeWidth": 0.7, "labelFontSize": 11.5, "rowPadding": 2, "padding": 0}},
          "stroke": {"field": "g", "type": "nominal", "scale": {"domain": ["PC","PI","PE","PS"], "range": ["#2aa866","#f2e030","#e23c9c","#f0704c"]}, "legend": null}
        }
       },
       {
        "transform": [{"filter": "isValid(datum.e)"}],
        "mark": {"type": "rule", "strokeWidth": 1},
        "encoding": {"y": {"field": "v", "type": "quantitative"}, "y2": {"field": "e"}, "stroke": {"field": "g", "type": "nominal", "legend": null}}
       },
       {
        "transform": [{"filter": "isValid(datum.e)"}],
        "mark": {"type": "tick", "size": 3, "thickness": 1},
        "encoding": {"y": {"field": "e", "type": "quantitative"}, "color": {"field": "g", "type": "nominal", "scale": {"domain": ["PC","PI","PE","PS"], "range": ["#2aa866","#f2e030","#e23c9c","#f0704c"]}, "legend": null}}
       }
      ]
     },
     {
      "width": 560, "height": 111,
      "data": {"name": "E5"},
      "title": {"text": "Y5000 strain", "fontSize": 15, "offset": -13},
      "encoding": {
        "x": {"field": "k", "type": "nominal", "scale": {"domain": ["PC 26:1","PC 28:0","PC 28:1","PC 30:1","PC 30:2","PC 32:1","PC 32:2","PC 34:1","PC 34:2","PC 36:1","PC 36:2","g1","PI 26:0","PI 28:0","PI 28:1","PI 30:1","PI 32:1","PI 32:2","PI 34:1","PI 34:2","PI 36:1","PI 36:2","g2","PE 26:0","PE 28:0","PE 28:1","PE 30:1","PE 30:2","PE 32:1","PE 32:2","PE 34:1","PE 34:2","PE 36:2","g3","PS 32:1","PS 32:2","PS 34:0","PS 34:1","PS 34:2","PS 36:0","PS 36:1"], "paddingInner": 0.25, "paddingOuter": 0.05}, "axis": {"values": ["PC 26:1","PC 28:0","PC 28:1","PC 30:1","PC 30:2","PC 32:1","PC 32:2","PC 34:1","PC 34:2","PC 36:1","PC 36:2","PI 26:0","PI 28:0","PI 28:1","PI 30:1","PI 32:1","PI 32:2","PI 34:1","PI 34:2","PI 36:1","PI 36:2","PE 26:0","PE 28:0","PE 28:1","PE 30:1","PE 30:2","PE 32:1","PE 32:2","PE 34:1","PE 34:2","PE 36:2","PS 32:1","PS 32:2","PS 34:0","PS 34:1","PS 34:2","PS 36:0","PS 36:1"], "labelExpr": "split(datum.value, ' ')[1]", "labelAngle": -90, "labelFontSize": 9.5, "title": null}},
        "xOffset": {"field": "s", "type": "nominal", "scale": {"domain": ["membrane","Sur7-MCC"], "paddingInner": 0}}
      },
      "layer": [
       {
        "mark": {"type": "bar", "strokeWidth": 1},
        "encoding": {
          "y": {"field": "v", "type": "quantitative", "scale": {"domain": [0, 20], "nice": false}, "axis": {"values": [0,5,10,15,20], "title": null, "labelFontSize": 11}},
          "fill": {"field": "s", "type": "nominal", "scale": {"domain": ["membrane","Sur7-MCC"], "range": ["#000000","#ffffff"]}, "legend": {"title": null, "orient": "none", "legendX": 450, "legendY": -7, "symbolType": "M-1,-0.4H1V0.4H-1Z", "symbolSize": 256, "symbolStrokeColor": "#555", "symbolStrokeWidth": 0.7, "labelFontSize": 11.5, "rowPadding": 2, "padding": 0}},
          "stroke": {"field": "g", "type": "nominal", "scale": {"domain": ["PC","PI","PE","PS"], "range": ["#2aa866","#f2e030","#e23c9c","#f0704c"]}, "legend": null}
        }
       },
       {
        "transform": [{"filter": "isValid(datum.e)"}],
        "mark": {"type": "rule", "strokeWidth": 1},
        "encoding": {"y": {"field": "v", "type": "quantitative"}, "y2": {"field": "e"}, "stroke": {"field": "g", "type": "nominal", "legend": null}}
       },
       {
        "transform": [{"filter": "isValid(datum.e)"}],
        "mark": {"type": "tick", "size": 3, "thickness": 1},
        "encoding": {"y": {"field": "e", "type": "quantitative"}, "color": {"field": "g", "type": "nominal", "scale": {"domain": ["PC","PI","PE","PS"], "range": ["#2aa866","#f2e030","#e23c9c","#f0704c"]}, "legend": null}}
       }
      ]
     },
     {
      "width": 560, "height": 34,
      "data": {"name": "strip"},
      "encoding": {
        "x": {"field": "k", "type": "nominal", "scale": {"domain": ["PC 26:1","PC 28:0","PC 28:1","PC 30:1","PC 30:2","PC 32:1","PC 32:2","PC 34:1","PC 34:2","PC 36:1","PC 36:2","g1","PI 26:0","PI 28:0","PI 28:1","PI 30:1","PI 32:1","PI 32:2","PI 34:1","PI 34:2","PI 36:1","PI 36:2","g2","PE 26:0","PE 28:0","PE 28:1","PE 30:1","PE 30:2","PE 32:1","PE 32:2","PE 34:1","PE 34:2","PE 36:2","g3","PS 32:1","PS 32:2","PS 34:0","PS 34:1","PS 34:2","PS 36:0","PS 36:1"], "paddingInner": 0.25, "paddingOuter": 0.05}, "axis": null},
        "y": {"field": "row", "type": "nominal", "scale": {"domain": ["label","box"], "paddingInner": 0, "paddingOuter": 0}, "axis": null}
      },
      "layer": [
       {
        "transform": [{"filter": "datum.row === 'label'"}],
        "mark": {"type": "text", "fontSize": 12.5, "dy": 4},
        "encoding": {"text": {"field": "t"}, "color": {"field": "g", "type": "nominal", "scale": {"domain": ["PC","PI","PE","PS"], "range": ["#22a85a","#c8aa1e","#e0218a","#f7941d"]}, "legend": null}}
       },
       {
        "transform": [{"filter": "datum.row === 'box'"}],
        "mark": {"type": "point", "filled": false, "size": 21316, "strokeWidth": 1, "opacity": 1},
        "encoding": {"shape": {"field": "g", "type": "nominal", "scale": {"domain": ["PC","PI","PE","PS"], "range": ["M-0.829,-0.096H0.829V0.096H-0.829Z","M-1,-0.096H1V0.096H-1Z","M-0.973,-0.096H0.973V0.096H-0.973Z","M-0.801,-0.096H0.801V0.096H-0.801Z"]}, "legend": null}, "stroke": {"field": "g", "type": "nominal", "scale": {"domain": ["PC","PI","PE","PS"], "range": ["#5cc08c","#efd94a","#e569b0","#f9b66a"]}, "legend": null}}
       },
       {
        "transform": [{"filter": "datum.row === 'box'"}],
        "mark": {"type": "text", "fontSize": 7.5, "color": "#777"},
        "encoding": {"text": {"field": "t"}}
       }
      ]
     }
    ]
   }
  ]
 }
]
}
